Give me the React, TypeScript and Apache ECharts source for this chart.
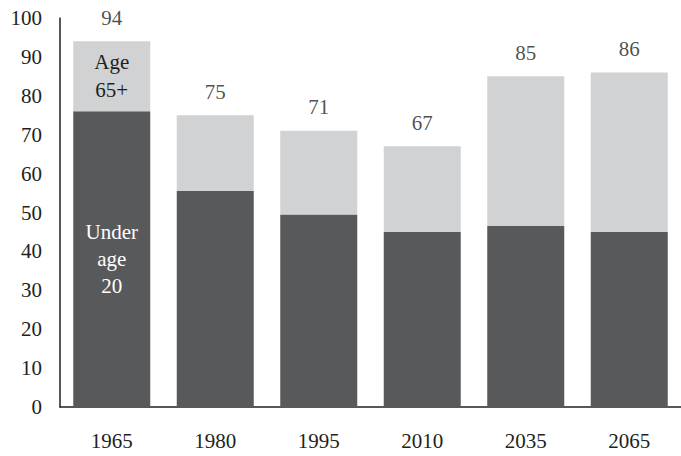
import React, { useEffect, useRef } from "react";
import * as echarts from "echarts";

// Years shown along the horizontal axis
const years = ["1965", "1980", "1995", "2010", "2035", "2065"];
// Dependents per 100 working-age people: total ratio (labelled above each bar)
const totals = [94, 75, 71, 67, 85, 86];
// Share of that total coming from people under age 20
const underTwenty = [76, 55.5, 49.5, 45, 46.5, 45];
// Remaining share from people aged 65 and over
const sixtyFivePlus = totals.map((t, i) => t - underTwenty[i]);
// Vertical axis ticks
const yTicks = [0, 10, 20, 30, 40, 50, 60, 70, 80, 90, 100];

const FONT = "'Liberation Serif', 'DejaVu Serif', serif";
const INK = "#231F20";

export default function App() {
  const ref = useRef<HTMLDivElement>(null);

  useEffect(() => {
    if (!ref.current) return;
    const chart = echarts.init(ref.current, undefined, { renderer: "svg" });
    chart.setOption({
      animation: false,
      textStyle: { fontFamily: FONT },
      grid: { left: 60, right: -13, top: 18, bottom: 49 },
      xAxis: {
        type: "category",
        data: years,
        axisLine: { lineStyle: { color: INK, width: 1.5 } },
        axisTick: { show: false },
        axisLabel: {
          color: INK,
          fontSize: 21,
          fontFamily: FONT,
          margin: 23,
        },
      },
      yAxis: {
        type: "value",
        min: yTicks[0],
        max: yTicks[yTicks.length - 1],
        interval: 10,
        splitLine: { show: false },
        axisLine: { show: true, lineStyle: { color: INK, width: 1.5 } },
        axisTick: { show: false },
        axisLabel: { color: INK, fontSize: 21, fontFamily: FONT, margin: 18 },
      },
      series: [
        {
          name: "Under age 20",
          type: "bar",
          stack: "ratio",
          barWidth: 77,
          itemStyle: { color: "#58595B" },
          data: underTwenty.map((v, i) =>
            i === 0
              ? {
                  value: v,
                  label: {
                    show: true,
                    position: "inside",
                    formatter: "Under\nage\n20",
                    color: "#FFFFFF",
                    fontSize: 21,
                    lineHeight: 27,
                    fontFamily: FONT,
                  },
                }
              : v
          ),
        },
        {
          name: "Age 65+",
          type: "bar",
          stack: "ratio",
          barWidth: 77,
          itemStyle: { color: "#D1D2D4" },
          data: sixtyFivePlus.map((v, i) =>
            i === 0
              ? {
                  value: v,
                  label: {
                    show: true,
                    position: "inside",
                    formatter: "Age\n65+",
                    color: INK,
                    fontSize: 21,
                    lineHeight: 28,
                    fontFamily: FONT,
                  },
                }
              : v
          ),
        },
        {
          name: "Total",
          type: "scatter",
          symbolSize: 0,
          data: totals,
          label: {
            show: true,
            position: "top",
            distance: 13,
            color: INK,
            fontSize: 21,
            fontFamily: FONT,
          },
        },
      ],
    });
    return () => chart.dispose();
  }, []);

  return (
    <div
      ref={ref}
      style={{ position: "absolute", left: 0, top: 0, width: 681, height: 456 }}
    />
  );
}
